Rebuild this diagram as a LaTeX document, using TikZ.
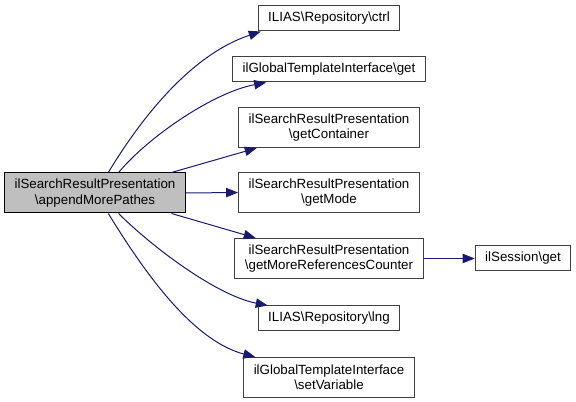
\documentclass[tikz,border=0pt]{standalone}
\usepackage{fontspec}
\setmainfont{Liberation Sans}
\usetikzlibrary{arrows.meta,positioning}
\definecolor{edgeblue}{HTML}{191970}
\definecolor{mainfill}{HTML}{BFBFBF}
\definecolor{framegrey}{HTML}{404040}
\newcommand{\bs}{\textbackslash}

\begin{document}
\begin{tikzpicture}[x=0.75pt,y=-0.75pt,
  every node/.style={font=\fontsize{10}{11.5}\selectfont},
  fn/.style={draw=framegrey,fill=white,line width=0.75pt,align=center,
    inner xsep=7.5pt,inner ysep=0pt,minimum height=18.75pt},
  fntwo/.style={fn,minimum height=30pt},
  call/.style={draw=edgeblue,line width=0.75pt,
    -{Triangle[length=9pt,width=7pt]}}]
  \useasboundingbox (0,0) rectangle (576,402);

  % Caller
  \node[fntwo,fill=mainfill,draw=black] (main) at (95,193)
    {ilSearchResultPresentation\\\bs appendMorePathes};

  % Callees
  \node[fn] (ctrl) at (329,18.5) {ILIAS\bs Repository\bs ctrl};
  \node[fn] (getg) at (329,69.5) {ilGlobalTemplateInterface\bs get};
  \node[fntwo] (getcont) at (329,127.5)
    {ilSearchResultPresentation\\\bs getContainer};
  \node[fntwo] (getmode) at (329,192.5)
    {ilSearchResultPresentation\\\bs getMode};
  \node[fntwo] (getmore) at (329,258.5)
    {ilSearchResultPresentation\\\bs getMoreReferencesCounter};
  \node[fn] (lng) at (329,318.5) {ILIAS\bs Repository\bs lng};
  \node[fntwo] (setvar) at (329,377.5)
    {ilGlobalTemplateInterface\\\bs setVariable};
  \node[fn] (session) at (523,258.5) {ilSession\bs get};

  % Calls
  \draw[call] (main.57) .. controls (140,120) and (190,55) ..
    ([xshift=2.25pt]ctrl.south west);
  \draw[call] (main.41) .. controls (150,135) and (215,92) ..
    ([xshift=25.5pt]getg.south west);
  \draw[call] (main.15) -- ([xshift=14pt]getcont.south west);
  \draw[call] (main.east) -- (getmode.west);
  \draw[call] (main.-15) -- ([xshift=16pt]getmore.north west);
  \draw[call] (main.-41) .. controls (150,245) and (215,295) ..
    ([xshift=7.5pt]lng.north west);
  \draw[call] (main.-57) .. controls (140,265) and (190,340) ..
    ([xshift=9pt]setvar.north west);
  \draw[call] (getmore.east) -- (session.west);
\end{tikzpicture}
\end{document}
